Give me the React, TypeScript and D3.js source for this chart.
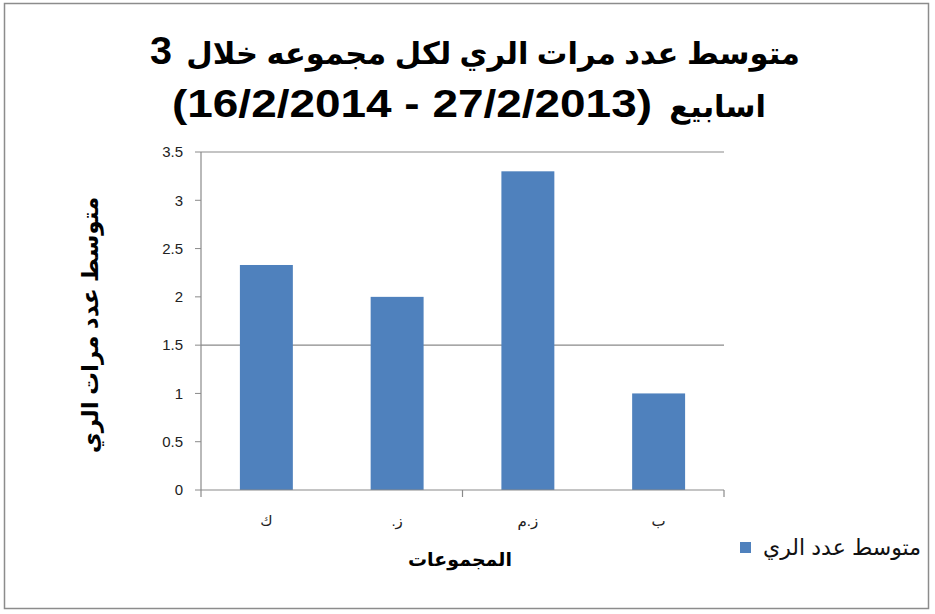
import React, { useEffect, useRef } from 'react';
import * as d3 from 'd3';

// القيم المقروءة من الصورة
const categories = ['ك', 'ز.', 'ز.م', 'ب'];
const values = [2.33, 2.0, 3.3, 1.0];
const yTicks = [0, 0.5, 1, 1.5, 2, 2.5, 3, 3.5];
const yTickLabels = ['0', '0.5', '1', '1.5', '2', '2.5', '3', '3.5'];
const gridValues = [1.5, 3.5];
const xTickBoundaries = [0, 2, 4];
const titleArabic = ['متوسط عدد مرات الري لكل مجموعه خلال', 'اسابيع'];
const titleLatin = ['3', '(16/2/2014 - 27/2/2013)'];
const yTitle = 'متوسط عدد مرات الري';
const xTitle = 'المجموعات';
const seriesName = 'متوسط عدد الري';

const FONT = '"Liberation Sans", "DejaVu Sans", Arial, sans-serif';

const App = () => {
  const ref = useRef<SVGSVGElement | null>(null);
  const width = 935;
  const height = 614;

  useEffect(() => {
    const svg = d3.select(ref.current);
    svg.selectAll('*').remove();

    const left = 201, right = 724, top = 152, bottom = 490;

    svg.append('rect')
      .attr('x', 4.5).attr('y', 3.5)
      .attr('width', 924).attr('height', 605)
      .attr('fill', 'white')
      .attr('stroke', '#8c8c8c')
      .attr('stroke-width', 1.5);

    const x = d3.scaleBand().domain(categories).range([left, right]).padding(0);
    const y = d3.scaleLinear().domain([0, 3.5]).range([bottom, top]);

    // خطوط الشبكة
    svg.selectAll('line.grid')
      .data(gridValues)
      .enter()
      .append('line')
      .attr('x1', left).attr('x2', right)
      .attr('y1', d => y(d)).attr('y2', d => y(d))
      .attr('stroke', '#8a8a8a')
      .attr('stroke-width', 1.2);

    // الأعمدة
    const bw = x.bandwidth() * 0.405;
    svg.selectAll('rect.bar')
      .data(values)
      .enter()
      .append('rect')
      .attr('x', (d, i) => (x(categories[i]) as number) + (x.bandwidth() - bw) / 2)
      .attr('y', d => y(d))
      .attr('width', bw)
      .attr('height', d => bottom - y(d))
      .attr('fill', '#4F81BD');

    // المحور الرأسي
    svg.append('line')
      .attr('x1', left).attr('x2', left)
      .attr('y1', top).attr('y2', bottom)
      .attr('stroke', '#8a8a8a').attr('stroke-width', 1.2);
    svg.selectAll('line.ytick')
      .data(yTicks)
      .enter()
      .append('line')
      .attr('x1', left - 6).attr('x2', left)
      .attr('y1', d => y(d)).attr('y2', d => y(d))
      .attr('stroke', '#8a8a8a').attr('stroke-width', 1);
    svg.selectAll('text.ylab')
      .data(yTicks)
      .enter()
      .append('text')
      .attr('x', left - 18)
      .attr('y', d => y(d))
      .attr('dy', '0.35em')
      .attr('text-anchor', 'end')
      .style('font-family', FONT)
      .style('font-size', '15px')
      .style('fill', '#222')
      .text((d, i) => yTickLabels[i]);

    // المحور الأفقي
    svg.append('line')
      .attr('x1', left).attr('x2', right)
      .attr('y1', bottom).attr('y2', bottom)
      .attr('stroke', '#8a8a8a').attr('stroke-width', 1.2);
    const step = x.step();
    svg.selectAll('line.xtick')
      .data(xTickBoundaries)
      .enter()
      .append('line')
      .attr('x1', d => left + d * step).attr('x2', d => left + d * step)
      .attr('y1', bottom).attr('y2', bottom + 7)
      .attr('stroke', '#8a8a8a').attr('stroke-width', 1.2);
    svg.selectAll('text.xlab')
      .data(categories)
      .enter()
      .append('text')
      .attr('x', d => (x(d) as number) + x.bandwidth() / 2)
      .attr('y', 526)
      .attr('text-anchor', 'middle')
      .attr('direction', 'rtl')
      .style('font-family', FONT)
      .style('font-size', '15px')
      .style('fill', '#222')
      .text(d => d);

    // العنوان: الجزء العربي والجزء اللاتيني بحجمين مختلفين
    const arabicRight = [800, 766];
    const latinRight = [172, 652];
    const latinWidth = [22, 480];
    const baselines = [64, 117];
    svg.selectAll('text.titleAr')
      .data(titleArabic)
      .enter()
      .append('text')
      .attr('x', (d, i) => arabicRight[i])
      .attr('y', (d, i) => baselines[i])
      .attr('text-anchor', 'start')
      .attr('direction', 'rtl')
      .style('font-family', FONT)
      .style('font-size', '30.5px')
      .style('font-weight', 'bold')
      .style('fill', '#000')
      .text(d => d);
    svg.selectAll('text.titleLat')
      .data(titleLatin)
      .enter()
      .append('text')
      .attr('x', (d, i) => latinRight[i] - latinWidth[i])
      .attr('y', (d, i) => baselines[i])
      .attr('text-anchor', 'start')
      .attr('direction', 'ltr')
      .attr('textLength', (d, i) => latinWidth[i])
      .attr('lengthAdjust', 'spacingAndGlyphs')
      .style('font-family', FONT)
      .style('font-size', '39px')
      .style('font-weight', 'bold')
      .style('fill', '#000')
      .text(d => d);

    // عنوان المحور الرأسي
    svg.append('text')
      .attr('transform', `translate(98, ${(top + bottom) / 2 + 4}) rotate(-90)`)
      .attr('text-anchor', 'middle')
      .attr('direction', 'rtl')
      .style('font-family', FONT)
      .style('font-size', '23px')
      .style('font-weight', 'bold')
      .text(yTitle);

    // عنوان المحور الأفقي
    svg.append('text')
      .attr('x', 460)
      .attr('y', 566)
      .attr('text-anchor', 'middle')
      .attr('direction', 'rtl')
      .style('font-family', FONT)
      .style('font-size', '19px')
      .style('font-weight', 'bold')
      .text(xTitle);

    // وسيلة الإيضاح
    svg.append('rect')
      .attr('x', 740).attr('y', 542)
      .attr('width', 11).attr('height', 11)
      .attr('fill', '#4F81BD');
    svg.append('text')
      .attr('x', 921)
      .attr('y', 555)
      .attr('text-anchor', 'start')
      .attr('direction', 'rtl')
      .style('font-family', FONT)
      .style('font-size', '22px')
      .style('fill', '#111')
      .text(seriesName);
  }, []);

  return (
    <svg ref={ref} width={width} height={height} style={{ position: 'absolute', left: 0, top: 0 }} />
  );
};

export default App;
